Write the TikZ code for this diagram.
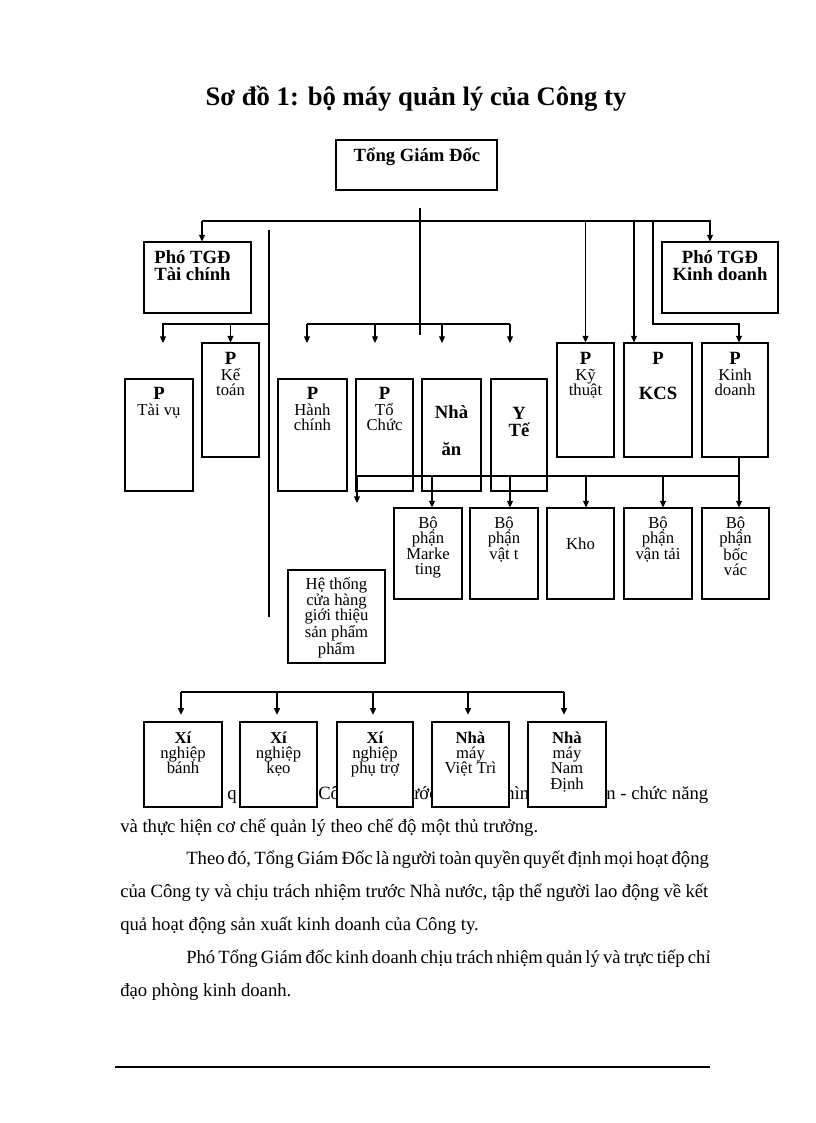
\documentclass[tikz,border=0pt]{standalone}
\usepackage{fontspec}
\setmainfont{Liberation Serif}
\usepackage{tikz}
\usetikzlibrary{arrows.meta,calc}
\newcommand{\bx}[5]{\node[box, minimum width={(#4-#2)*0.75pt}, minimum height={(#5-#3)*0.75pt}] (#1) at ({(#2+#4)/2},{(#3+#5)/2}) {};}
\newcommand{\bigP}{{\fontsize{14}{11.5}\selectfont\bfseries P}}
\tikzset{
  box/.style={draw, fill=white, line width=0.8pt, inner sep=0pt},
  txt/.style={align=center, inner sep=0pt, anchor=north, font=\fontsize{12.5}{11.5}\selectfont},
  hd/.style={align=center, inner sep=0pt, anchor=north, font=\fontsize{14}{12.75}\selectfont\bfseries},
  body/.style={anchor=base west, inner sep=0pt, font=\fontsize{14}{16}\selectfont},
  ln/.style={line width=0.8pt},
  arr/.style={ln, -{Triangle[length=5pt, width=4.5pt]}},
}
\begin{document}
\begin{tikzpicture}[x=0.75pt, y=-0.75pt]
  \useasboundingbox (0,0) rectangle (816,1123);
  \node[anchor=base, inner sep=0pt, font=\fontsize{20}{24}\selectfont\bfseries] (title) at (416,106) {Sơ đồ 1: bộ máy quản lý của Công ty};

  % body text (first line is partly hidden by the boxes)
  \node[body] (f1) at (227,799) {q};
  \node[body] (f2) at (318,799) {Cô};
  \node[body] (f3) at (409,799) {ước};
  \node[body] (f4) at (505,799) {hìn};
  \node[body] (f5) at (606,799) {\makebox[76.5pt][s]{n - chức năng}};
  \node[body] (p2) at (120,832) {và thực hiện cơ chế quản lý theo chế độ một thủ trưởng.};
  \node[body] (p3) at (186,864) {\makebox[391.5pt][s]{Theo đó, Tổng Giám Đốc là người toàn quyền quyết định mọi hoạt động}};
  \node[body] (p4) at (120,897) {\makebox[441pt][s]{của Công ty và chịu trách nhiệm trước Nhà nước, tập thể người lao động về kết}};
  \node[body] (p5) at (120,930) {quả hoạt động sản xuất kinh doanh của Công ty.};
  \node[body] (p6) at (186,963) {\makebox[391.5pt][s]{Phó Tổng Giám đốc kinh doanh chịu trách nhiệm quản lý và trực tiếp chỉ}};
  \node[body] (p7) at (120,996) {đạo phòng kinh doanh.};
  \coordinate (r0) at (115,1067);
  \coordinate (r1) at (710,1067);
  \draw[ln] (r0) -- (r1);

  % boxes
  \bx{gd}{336}{140}{497}{190}
  \bx{ptc}{144}{242}{251}{313}
  \bx{pkd}{662}{242}{778}{313}
  \bx{tv}{125}{379}{193}{491}
  \bx{kt}{202}{343}{259}{457}
  \bx{hc}{278}{379}{347}{491}
  \bx{tc}{356}{379}{413}{491}
  \bx{na}{422}{379}{481}{491}
  \bx{yt}{491}{379}{547}{491}
  \bx{kth}{557}{343}{614}{457}
  \bx{kcs}{624}{343}{692}{457}
  \bx{kd}{702}{343}{768}{457}
  \bx{mk}{394}{508}{462}{599}
  \bx{vt}{470}{508}{538}{599}
  \bx{kho}{547}{508}{614}{599}
  \bx{vtai}{624}{508}{692}{599}
  \bx{bv}{702}{508}{769}{599}
  \bx{ht}{288}{570}{385}{663}
  \bx{xb}{144}{722}{222}{807}
  \bx{xk}{240}{722}{317}{807}
  \bx{xp}{337}{722}{413}{807}
  \bx{vtr}{432}{722}{509}{807}
  \bx{nd}{528}{722}{606}{807}

  % box texts
  \node[anchor=base, inner sep=0pt, font=\fontsize{14}{16}\selectfont\bfseries] (gd-t) at (417,162) {Tổng Giám Đốc};
  \node[hd] (ptc-t) at ($(ptc.north)+(-5,9)$) {Phó TGĐ\\Tài chính};
  \node[hd] (pkd-t) at ($(pkd.north)+(0,9)$) {Phó TGĐ\\Kinh doanh};
  \node[txt] (tv-t) at ($(tv.north)+(0,9)$) {\bigP\\Tài vụ};
  \node[txt] (kt-t) at ($(kt.north)+(0,10)$) {\bigP\\Kế\\toán};
  \node[txt] (hc-t) at ($(hc.north)+(0,9)$) {\bigP\\Hành\\chính};
  \node[txt] (tc-t) at ($(tc.north)+(0,9)$) {\bigP\\Tổ\\Chức};
  \node[hd] (na-t) at ($(na.north)+(0,27)$) {Nhà\\[15pt]ăn};
  \node[hd] (yt-t) at ($(yt.north)+(0,29)$) {Y\\Tế};
  \node[txt] (kth-t) at ($(kth.north)+(0,10)$) {\bigP\\Kỹ\\thuật};
  \node[txt] (kcs-t) at ($(kcs.north)+(0,10)$) {\bigP\\[14.75pt]{\fontsize{14}{12}\selectfont\bfseries KCS}};
  \node[txt] (kd-t) at ($(kd.north)+(0,10)$) {\bigP\\Kinh\\doanh};
  \node[txt] (mk-t) at ($(mk.north)+(0,9)$) {Bộ\\phận\\Marke\\ting};
  \node[txt] (vt-t) at ($(vt.north)+(0,9)$) {Bộ\\phận\\vật t};
  \node[txt] (kho-t) at ($(kho.north)+(0,30)$) {Kho};
  \node[txt] (vtai-t) at ($(vtai.north)+(0,9)$) {Bộ\\phận\\vận tải};
  \node[txt] (bv-t) at ($(bv.north)+(0,9)$) {Bộ\\phận\\bốc\\vác};
  \node[txt] (ht-t) at ($(ht.north)+(0,8)$) {Hệ thống\\cửa hàng\\giới thiệu\\sản phẩm\\phẩm};
  \node[txt] (xb-t) at ($(xb.north)+(0,10)$) {\textbf{Xí}\\nghiệp\\bánh};
  \node[txt] (xk-t) at ($(xk.north)+(0,10)$) {\textbf{Xí}\\nghiệp\\kẹo};
  \node[txt] (xp-t) at ($(xp.north)+(0,10)$) {\textbf{Xí}\\nghiệp\\phụ trợ};
  \node[txt] (vtr-t) at ($(vtr.north)+(0,10)$) {\textbf{Nhà}\\máy\\Việt Trì};
  \node[txt] (nd-t) at ($(nd.north)+(0,10)$) {\textbf{Nhà}\\máy\\Nam\\Định};

  % top level
  \coordinate (j0) at (420,208);
  \coordinate (j1) at (420,335);
  \draw[ln] (j0) -- (j1);
  \coordinate (hL) at (202,221);
  \coordinate (hR) at (710,221);
  \draw[arr] (hL) -- (hL |- ptc.north);
  \draw[arr] (hL) -- (hR) -- (hR |- pkd.north);
  \draw[arr] (kth.north |- hL) -- (kth.north);
  \coordinate (c3) at (634,221);
  \draw[arr] (c3) -- (c3 |- kcs.north);
  \coordinate (c4) at (653,221);
  \coordinate (c5) at (739,324);
  \draw[arr] (c4) |- (c5) -- (c5 |- kd.north);

  % left group
  \coordinate (v1) at (269,230);
  \coordinate (v2) at (269,617);
  \draw[ln] (v1) -- (v2);
  \coordinate (l1) at (269,324);
  \coordinate (l0) at (163,343);
  \draw[arr] (l1) -| (l0);
  \draw[arr] (kt.north |- l1) -- (kt.north);

  % middle group
  \coordinate (m0) at (307,324);
  \coordinate (m9) at (510,324);
  \draw[ln] (m0) -- (m9);
  \foreach \x [count=\i] in {307,375,442,510} {
    \coordinate (m\i) at (\x,343);
    \draw[arr] (m\i |- m0) -- (m\i);
  }

  % bus under the rooms
  \coordinate (b0) at (357,476);
  \coordinate (b1) at (739,476);
  \draw[ln] (b0) -- (b1);
  \coordinate (k0) at (739,457);
  \draw[arr] (k0) -- (k0 |- bv.north);
  \coordinate (b2) at (357,503);
  \draw[arr] (b0) -- (b2);
  \foreach \x/\n in {432/mk,510/vt,586/kho,663/vtai} {
    \coordinate (d\n) at (\x,476);
    \draw[arr] (d\n) -- (d\n |- \n.north);
  }

  % factories
  \coordinate (g0) at (181,692);
  \coordinate (g1) at (564,692);
  \draw[ln] (g0) -- (g1);
  \foreach \x/\n in {181/xb,277/xk,373/xp,468/vtr,564/nd} {
    \coordinate (e\n) at (\x,692);
    \draw[arr, shorten >=5pt] (e\n) -- (e\n |- \n.north);
  }
\end{tikzpicture}
\end{document}
